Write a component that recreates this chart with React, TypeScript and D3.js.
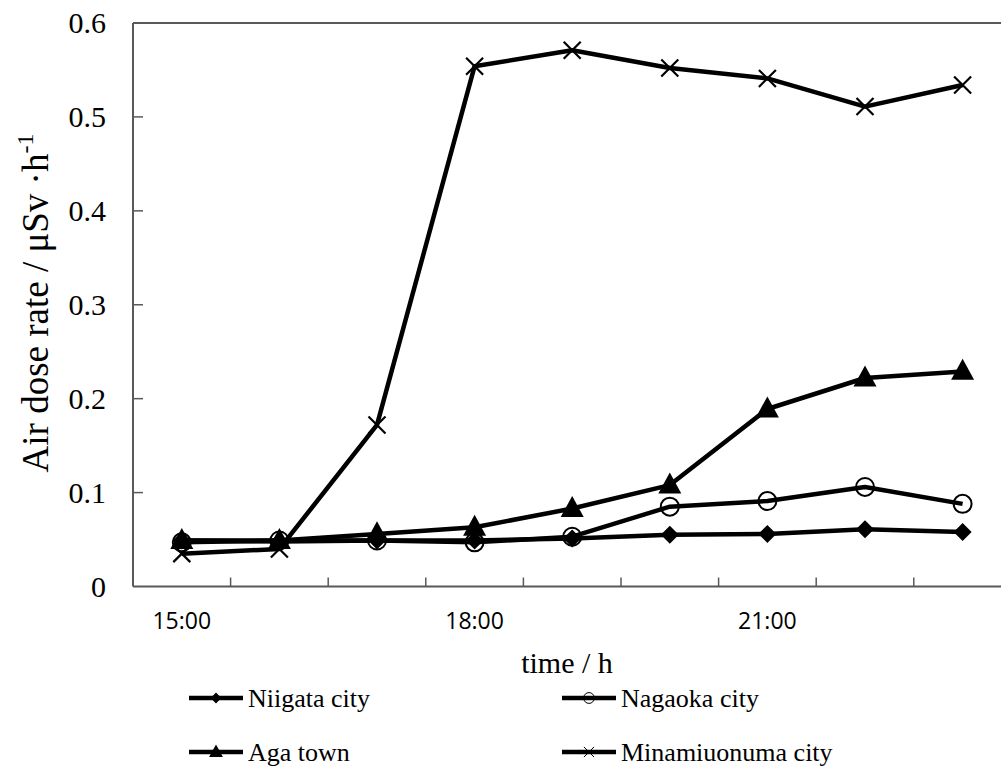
import React from "react";
import * as d3 from "d3";

// Hourly observations
const times = ["15:00", "16:00", "17:00", "18:00", "19:00", "20:00", "21:00", "22:00", "23:00"];
const labelledTimes = ["15:00", "18:00", "21:00"];
const yTicks = [0, 0.1, 0.2, 0.3, 0.4, 0.5, 0.6];

const niigata = [0.049, 0.048, 0.049, 0.049, 0.051, 0.055, 0.056, 0.061, 0.058];
const nagaoka = [0.047, 0.049, 0.049, 0.047, 0.053, 0.085, 0.091, 0.106, 0.088];
const aga = [0.049, 0.049, 0.056, 0.063, 0.083, 0.108, 0.189, 0.222, 0.229];
const minamiuonuma = [0.035, 0.04, 0.172, 0.554, 0.571, 0.552, 0.541, 0.511, 0.534];

const seriesNames = ["Niigata city", "Nagaoka city", "Aga town", "Minamiuonuma city"];
const seriesMarkers = ["diamond", "circle", "triangle", "cross"];
const seriesValues = [niigata, nagaoka, aga, minamiuonuma];

const W = 1001;
const H = 773;
const SERIF = "'Liberation Serif', 'Times New Roman', serif";
const SANS = "'Open Sans', 'Noto Sans', sans-serif";
const AXIS = "#595959";

function Marker({ kind, cx, cy, s }: { kind: string; cx: number; cy: number; s: number }) {
  if (kind === "diamond") {
    const r = 9 * s;
    return <path d={`M${cx},${cy - r}L${cx + r},${cy}L${cx},${cy + r}L${cx - r},${cy}Z`} fill="#000" />;
  }
  if (kind === "triangle") {
    const w = 11.5 * s;
    const h = 21 * s;
    return (
      <path
        d={`M${cx},${cy - h * 0.6}L${cx + w},${cy + h * 0.4}L${cx - w},${cy + h * 0.4}Z`}
        fill="#000"
      />
    );
  }
  if (kind === "circle") {
    return <circle cx={cx} cy={cy} r={9 * s} fill="none" stroke="#000" strokeWidth={s < 1 ? 1 : 2} />;
  }
  const r = 8.5 * s;
  return (
    <path
      d={`M${cx - r},${cy - r}L${cx + r},${cy + r}M${cx - r},${cy + r}L${cx + r},${cy - r}`}
      stroke="#000"
      strokeWidth={s < 1 ? 1 : 2.2}
      fill="none"
    />
  );
}

export default function App() {
  const x = d3.scaleBand<string>().domain(times).range([133, 133 + 97.6 * times.length]);
  const y = d3.scaleLinear().domain([0, 0.6]).range([586.5, 23]);
  const cx = (t: string) => (x(t) as number) + x.bandwidth() / 2;
  const line = d3
    .line<number>()
    .x((_, i) => cx(times[i]))
    .y((d) => y(d));

  const legendPos = [
    { lx: 189, ly: 698 },
    { lx: 562, ly: 698 },
    { lx: 189, ly: 752 },
    { lx: 562, ly: 752 },
  ];

  return (
    <svg
      width={W}
      height={H}
      viewBox={`0 0 ${W} ${H}`}
      style={{ position: "absolute", left: 0, top: 0, background: "#fff" }}
    >
      <rect width={W} height={H} fill="#fff" />

      {/* plot frame */}
      <line x1={133} x2={W} y1={y(0.6)} y2={y(0.6)} stroke={AXIS} strokeWidth={2} />
      <line x1={133} x2={133} y1={y(0.6)} y2={y(0)} stroke={AXIS} strokeWidth={2} />
      <line x1={133} x2={W} y1={y(0)} y2={y(0)} stroke={AXIS} strokeWidth={2} />

      {/* y axis ticks and labels */}
      {yTicks.map((t) => (
        <g key={t}>
          {t > 0 && t < 0.6 && <line x1={133} x2={143} y1={y(t)} y2={y(t)} stroke={AXIS} strokeWidth={1.5} />}
          <text x={106} y={y(t)} dy="0.34em" textAnchor="end" fontFamily={SERIF} fontSize={30} fill="#000">
            {t === 0 ? "0" : t.toFixed(1)}
          </text>
        </g>
      ))}

      {/* x axis ticks between categories */}
      {times.slice(1).map((t) => (
        <line key={t} x1={x(t)} x2={x(t)} y1={y(0)} y2={y(0) - 9} stroke={AXIS} strokeWidth={1.5} />
      ))}
      {labelledTimes.map((t) => (
        <text key={t} x={cx(t)} y={629} textAnchor="middle" fontFamily={SANS} fontSize={23} fill="#000">
          {t}
        </text>
      ))}

      {/* axis titles */}
      <text x={567} y={673} textAnchor="middle" fontFamily={SERIF} fontSize={30} fill="#000">
        time / h
      </text>
      <text
        transform="translate(48,303) rotate(-90)"
        textAnchor="middle"
        fontFamily={SERIF}
        fontSize={37}
        fill="#000"
      >
        Air dose rate / μSv ·h
        <tspan fontSize={24} dy={-15}>
          -1
        </tspan>
      </text>

      {/* series */}
      {seriesValues.map((vals, si) => (
        <g key={seriesNames[si]}>
          <path d={line(vals) as string} fill="none" stroke="#000" strokeWidth={4.5} strokeLinejoin="round" />
          {vals.map((v, i) => (
            <Marker key={i} kind={seriesMarkers[si]} cx={cx(times[i])} cy={y(v)} s={1} />
          ))}
        </g>
      ))}

      {/* legend */}
      {seriesNames.map((name, si) => {
        const { lx, ly } = legendPos[si];
        return (
          <g key={name}>
            <line x1={lx} x2={lx + 54} y1={ly} y2={ly} stroke="#000" strokeWidth={4.5} />
            <Marker kind={seriesMarkers[si]} cx={lx + 27} cy={ly} s={0.6} />
            <text x={lx + 59} y={ly} dy="0.34em" fontFamily={SERIF} fontSize={26} fill="#000">
              {name}
            </text>
          </g>
        );
      })}
    </svg>
  );
}
